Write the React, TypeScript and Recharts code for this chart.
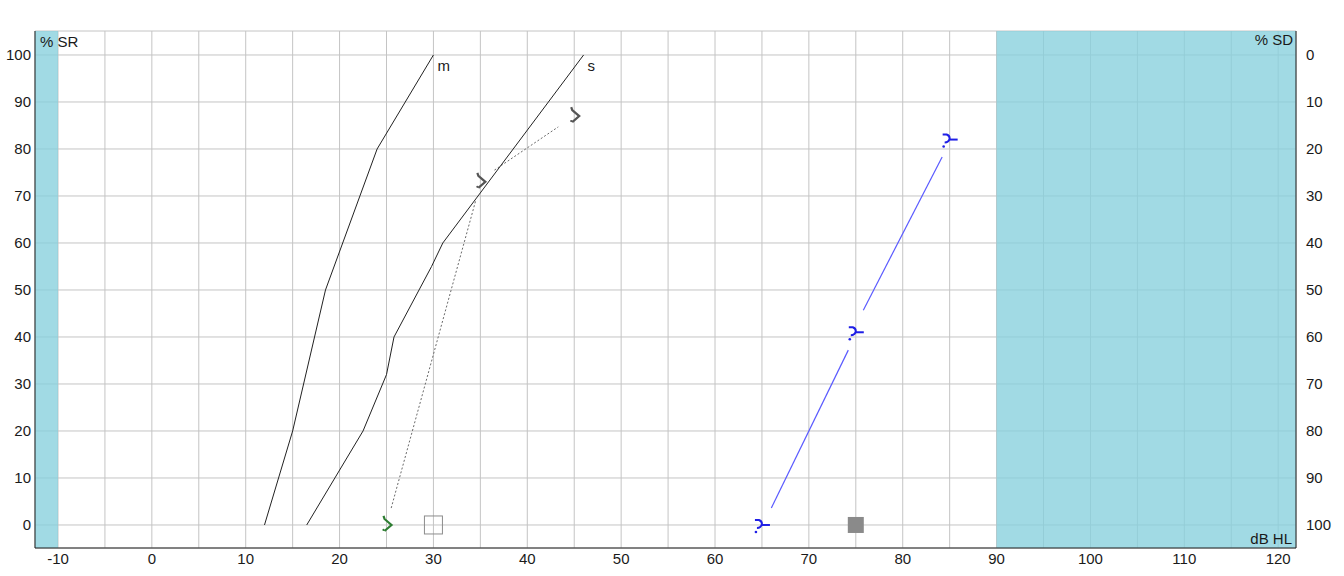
import React from 'react'
import {
  ComposedChart,
  XAxis,
  YAxis,
  CartesianGrid,
  Scatter,
  ReferenceArea,
  ReferenceDot,
  Label,
} from 'recharts'

// dB HL grid positions (labels only on tens)
const levelTicks = [-10, -5, 0, 5, 10, 15, 20, 25, 30, 35, 40, 45, 50, 55, 60, 65, 70, 75, 80, 85, 90, 95, 100, 105, 110, 115, 120]
const srTicks = [0, 10, 20, 30, 40, 50, 60, 70, 80, 90, 100]
const sdTicks = [0, 10, 20, 30, 40, 50, 60, 70, 80, 90, 100]

// reference articulation curves
const curveM = [
  { x: 12, y: 0 },
  { x: 15, y: 20 },
  { x: 18.5, y: 50 },
  { x: 24, y: 80 },
  { x: 30, y: 100 },
]
const curveS = [
  { x: 16.5, y: 0 },
  { x: 22.5, y: 20 },
  { x: 25, y: 32 },
  { x: 25.8, y: 40 },
  { x: 29.8, y: 55 },
  { x: 31, y: 60 },
  { x: 46, y: 100 },
]

// measured results, connecting segments
const grayLow = [{ x: 25.5, y: 3.6 }, { x: 34.5, y: 69 }]
const grayHigh = [{ x: 36.5, y: 75.5 }, { x: 43.3, y: 84.7 }]
const blueLow = [{ x: 66, y: 3.6 }, { x: 74.2, y: 37.2 }]
const blueHigh = [{ x: 75.8, y: 45.7 }, { x: 84.2, y: 78.3 }]

// symbols
const greenMarks = [{ x: 25, y: 0 }]
const grayMarks = [{ x: 35, y: 73 }, { x: 45, y: 87 }]
const blueMarks = [{ x: 65, y: 0 }, { x: 75, y: 41 }, { x: 85, y: 82 }]
const openSquares = [{ x: 30, y: 0 }]
const filledSquares = [{ x: 75, y: 0 }]

const FONT = '"Liberation Sans", Arial, sans-serif'
const TXT = '#1a1a1a'
const FS = 15

const NoDot = () => <g />

const Chevron = (color: string) => (props: any) => {
  const { cx, cy } = props
  return (
    <g transform={`translate(${cx},${cy})`}>
      <path d="M-3,-9 L-2,-6 L5,0 L-2,6" fill="none" stroke={color} strokeWidth={2.2} />
      <circle cx={-3} cy={5} r={1.1} fill={color} />
    </g>
  )
}

const BlueMark = (props: any) => {
  const { cx, cy } = props
  const c = '#1f1fe6'
  return (
    <g transform={`translate(${cx},${cy})`}>
      <path d="M-7,-5 L-3,-5 Q0,-4 0,-1 Q-1,3 -5,3" fill="none" stroke={c} strokeWidth={2} />
      <path d="M0,0 L8,0" stroke={c} strokeWidth={2} />
      <circle cx={-6} cy={7} r={1.3} fill={c} />
    </g>
  )
}

const OpenSquare = (props: any) => (
  <rect x={props.cx - 9} y={props.cy - 9} width={18} height={18} fill="none" stroke="#8c8c8c" strokeWidth={1} />
)

const FilledSquare = (props: any) => (
  <rect x={props.cx - 8} y={props.cy - 8} width={16} height={16} fill="#8a8a8a" />
)

const curveLabel = (text: string) => (props: any) => {
  const { viewBox } = props
  return (
    <text x={viewBox.x + 4} y={viewBox.y + 16} fill={TXT} fontSize={FS} fontFamily={FONT}>
      {text}
    </text>
  )
}

const App = () => {
  return (
    <div style={{ position: 'absolute', left: 0, top: 0, background: 'white' }}>
      <ComposedChart
        width={1344}
        height={576}
        margin={{ top: 31, right: 0, bottom: 0, left: 0 }}
        style={{ fontFamily: FONT }}
      >
        <CartesianGrid stroke="#c4c4c4" strokeWidth={1} />
        <XAxis
          dataKey="x"
          type="number"
          domain={[-12.45, 121.9]}
          allowDataOverflow
          ticks={levelTicks}
          interval={0}
          tickFormatter={(v: number) => (v % 10 === 0 ? String(v) : '')}
          height={28}
          tickLine={false}
          tickSize={0}
          tickMargin={5}
          axisLine={{ stroke: '#222' }}
          tick={{ fill: TXT, fontSize: FS }}
        />
        <XAxis
          xAxisId="top"
          orientation="top"
          type="number"
          domain={[-12.45, 121.9]}
          height={0}
          tick={false}
          tickLine={false}
          axisLine={{ stroke: '#222' }}
        />
        <YAxis
          dataKey="y"
          type="number"
          domain={[-4.9, 105.1]}
          allowDataOverflow
          ticks={srTicks}
          interval={0}
          width={35}
          tickLine={false}
          tickSize={0}
          tickMargin={4}
          axisLine={{ stroke: '#222' }}
          tick={{ fill: TXT, fontSize: FS }}
        />
        <YAxis
          yAxisId="right"
          orientation="right"
          type="number"
          domain={[-5.1, 104.9]}
          reversed
          allowDataOverflow
          ticks={sdTicks}
          interval={0}
          width={48}
          tickLine={false}
          tickSize={0}
          tickMargin={10}
          axisLine={{ stroke: '#222' }}
          tick={{ fill: TXT, fontSize: FS, textAnchor: 'start' }}
        />

        <ReferenceArea x1={-12.45} x2={-10} y1={-4.9} y2={105.1} fill="#86cfdd" fillOpacity={0.78} stroke="none">
          <Label value="% SR" position="insideTopLeft" offset={5} fill={TXT} fontSize={FS} />
        </ReferenceArea>
        <ReferenceArea x1={90} x2={121.9} y1={-4.9} y2={105.1} fill="#86cfdd" fillOpacity={0.78} stroke="none">
          <Label value="% SD" position="insideTopRight" offset={3} fill={TXT} fontSize={FS} />
          <Label value="dB HL" position="insideBottomRight" offset={4} fill={TXT} fontSize={FS} />
        </ReferenceArea>

        <Scatter data={curveM} line={{ stroke: '#222', strokeWidth: 1 }} lineType="joint" shape={NoDot} isAnimationActive={false} />
        <Scatter data={curveS} line={{ stroke: '#222', strokeWidth: 1 }} lineType="joint" shape={NoDot} isAnimationActive={false} />
        <Scatter data={grayLow} line={{ stroke: '#6a6a6a', strokeWidth: 1, strokeDasharray: '2 2' }} lineType="joint" shape={NoDot} isAnimationActive={false} />
        <Scatter data={grayHigh} line={{ stroke: '#6a6a6a', strokeWidth: 1, strokeDasharray: '2 2' }} lineType="joint" shape={NoDot} isAnimationActive={false} />
        <Scatter data={blueLow} line={{ stroke: '#5a5aff', strokeWidth: 1.2 }} lineType="joint" shape={NoDot} isAnimationActive={false} />
        <Scatter data={blueHigh} line={{ stroke: '#5a5aff', strokeWidth: 1.2 }} lineType="joint" shape={NoDot} isAnimationActive={false} />

        <Scatter data={openSquares} shape={OpenSquare} isAnimationActive={false} />
        <Scatter data={filledSquares} shape={FilledSquare} isAnimationActive={false} />
        <Scatter data={greenMarks} shape={Chevron('#2e7d32')} isAnimationActive={false} />
        <Scatter data={grayMarks} shape={Chevron('#555')} isAnimationActive={false} />
        <Scatter data={blueMarks} shape={BlueMark} isAnimationActive={false} />

        <ReferenceDot x={30} y={100} r={0} fill="none" stroke="none" label={curveLabel('m')} />
        <ReferenceDot x={46} y={100} r={0} fill="none" stroke="none" label={curveLabel('s')} />
      </ComposedChart>
    </div>
  )
}

export default App
